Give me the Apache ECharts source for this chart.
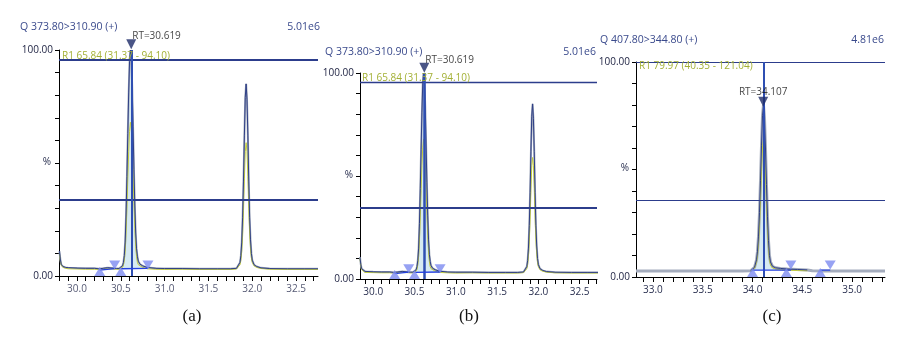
<!DOCTYPE html>
<html><head><meta charset="utf-8">
<script src="https://cdn.jsdelivr.net/npm/echarts@6/dist/echarts.min.js"></script>
<style>html,body{margin:0;padding:0;background:#fff}#c{width:922px;height:343px}</style>
</head><body><div id="c"></div>
<script>
// ---------- Panels (a) and (b): Q 373.80>310.90 (+) ----------
const timeAB = [29.80,29.81,29.82,29.84,29.87,29.90,30.00,30.10,30.20,30.25,30.30,30.35,30.40,30.45,30.48,
  30.50,30.52,30.53,30.54,30.55,30.56,30.57,30.58,30.59,30.60,30.61,30.62,30.63,30.64,30.65,30.66,30.67,30.68,30.69,30.70,30.72,30.75,30.80,30.90,
  31.00,31.20,31.40,31.60,31.75,31.82,31.84,31.86,31.87,31.88,31.89,31.90,31.91,31.92,31.93,31.94,31.95,31.96,31.97,31.98,31.99,32.00,32.02,32.05,32.10,32.20,32.40,32.60,32.75];
const mainAB = [11,7.5,5.2,4.2,3.8,3.7,3.5,3.4,3.4,3.2,3.4,3.7,3.5,3.3,3.3,
  3.6,4.5,6,9,15,27,44,63,81,95,100,96,84,66,47,31,19,12,8.5,6.5,5.2,4.5,3.8,3.4,
  3.3,3.3,3.2,3.2,3.2,3.4,4,6,9,15,26,42,62,79,85,78,62,42,26,16,10,7,5,4.2,3.6,3.3,3.2,3.2,3.2];
const ionAB = [10,7,4.8,3.8,3.4,3.2,3.1,3.0,3.0,2.9,3.0,3.2,3.1,3.0,3.0,
  3.1,3.8,4.8,7,11,19,30,43,55,64,68,65,57,45,32,21,13,8.5,6,5,4.3,3.8,3.2,3.0,
  2.9,3.0,2.9,2.9,2.9,3.1,3.6,5,7,11,18,29,43,55,59,55,44,30,19,12,8,6,4.5,3.8,3.3,3.0,2.9,2.9,2.9];
// start-of-trace values of panel (b), whose time axis begins later
const leadTimeB = [29.84,29.85,29.86,29.88];
const leadB = [10.5,7,5,4.1];
const rtAB = 30.619;
const rtMarkAB = 102.5;
const peakFromAB = 30.50, peakToAB = 30.81;
const intStartAB = [30.26, 30.50];
const intEndAB = [30.43, 30.81];
const intLevelAB = [[2.6,3.3],[3.2,3.4]];
const upMarksAB = [30.26, 30.50];
const downMarksAB = [30.43, 30.81];
const hLinesA = [95.6, 33.6];
const hLinesB = [95.6, 34.5];
const xLabelsAB = [30.0, 30.5, 31.0, 31.5, 32.0, 32.5];

// ---------- Panel (c): Q 407.80>344.80 (+) ----------
const timeC = [32.83,33.20,33.60,33.90,33.98,34.00,34.02,34.04,34.05,34.06,34.07,34.08,34.09,34.10,34.11,34.12,34.13,34.14,34.15,34.16,34.17,34.18,34.20,34.23,34.28,34.35,34.45,34.55,34.60,34.70,35.00,35.33];
const mainC = [2.8,2.8,2.8,2.8,2.9,3.3,4.5,8,12,19,30,45,61,75,80,74,60,43,28,17,10,7,5,4.3,4.0,3.7,3.5,3.3,2.9,2.8,2.8,2.8];
const ionC  = [2.8,2.8,2.8,2.8,2.8,3.1,4,6.8,10,15.5,24,36,49,60,64,59,48,34,22,13.5,8,5.6,4.2,3.7,3.4,3.2,3.0,2.9,2.8,2.8,2.8,2.8];
const rtC = 34.107;
const rtMarkC = 81.5;
const peakFromC = 34.00, peakToC = 34.35;
const intStartC = [34.00, 34.68];
const intEndC = [34.385, 34.78];
const intLevelC = [[3.2,3.2],[3.2,3.2]];
const upMarksC = [34.00, 34.34, 34.68];
const downMarksC = [34.385, 34.78];
const hLinesC = [100, 35.8];
const xLabelsC = [33.0, 33.5, 34.0, 34.5, 35.0];

const titles = {
  a: ['Q 373.80>310.90 (+)', '5.01e6', 'R1 65.84 (31.37 - 94.10)'],
  b: ['Q 373.80>310.90 (+)', '5.01e6', 'R1 65.84 (31.37 - 94.10)'],
  c: ['Q 407.80>344.80 (+)', '4.81e6', 'R1 79.97 (40.35 - 121.04)']
};
const yName = '%';
const captions = ['(a)', '(b)', '(c)'];

// ---------- build ----------
const FONT = 'Open Sans';
const NAVY = '#2f3f86';
const pair = (ts, vs) => ts.map((t, i) => [t, vs[i]]);
const within = (pts, a, b) => pts.filter(p => p[0] >= a - 1e-9 && p[0] <= b + 1e-9);
function segs(starts, ends, levels) {
  const out = [];
  starts.forEach((s, i) => { out.push([s, levels[i][0]], [ends[i], levels[i][1]], [null, null]); });
  return out;
}
// ticks every 0.1 min inside the axis range
function minorTicks(min, max) {
  const out = [];
  for (let k = Math.ceil(min * 10 - 1e-9); k <= Math.floor(max * 10 + 1e-9); k++) out.push(k / 10);
  return out;
}
const mainA = pair(timeAB, mainAB);
const ionA = pair(timeAB, ionAB);
const mainB = pair(leadTimeB, leadB).concat(mainA.filter(p => p[0] > 29.885));
const ionB = pair(leadTimeB, leadB.map(v => v - 0.4)).concat(ionA.filter(p => p[0] > 29.885));
const mainCp = pair(timeC, mainC);
const ionCp = pair(timeC, ionC);

const labelText = { fontSize: 10, fontFamily: FONT, color: '#2a3050' };
function xAxis(gi, min, max, labels, showLabels) {
  return {
    type: 'value', gridIndex: gi, min, max,
    axisLine: { show: true, lineStyle: { color: '#000', width: 1 } },
    axisTick: { show: true, length: 5, lineStyle: { color: '#000' }, customValues: minorTicks(min, max) },
    splitLine: { show: false },
    axisLabel: Object.assign({
      show: showLabels, margin: 8, customValues: labels, hideOverlap: false,
      formatter: v => v.toFixed(1)
    }, labelText)
  };
}
function yAxis(gi) {
  return {
    type: 'value', gridIndex: gi, min: 0, max: 100, interval: 10,
    axisLine: { show: true, lineStyle: { color: '#000', width: 1 } },
    axisTick: { show: true, length: 4, lineStyle: { color: '#000' } },
    splitLine: { show: false },
    axisLabel: {
      margin: 6, fontSize: 10, fontFamily: FONT, color: '#1c2040',
      formatter: v => v === 0 ? '0.00' : (v === 100 ? '100.00' : '')
    }
  };
}
// time labels drawn through the axis scale as point labels (used for panel a)
function timeLabelSeries(gi, labels) {
  return {
    type: 'scatter', xAxisIndex: gi, yAxisIndex: gi, data: labels.map(t => [t, 0]),
    symbol: 'circle', symbolSize: 0.1, itemStyle: { color: 'transparent' }, clip: false, silent: true, z: 8,
    label: Object.assign({ show: true, position: 'bottom', distance: 8, formatter: p => p.value[0].toFixed(1) }, labelText)
  };
}
function panelSeries(gi, main, ion, fromT, toT, fillBase, rt, rtMark, rtAlign, rtOffset, hLines, hWidths, vWidth,
                     ups, downs, upLevel, downLevel, intSegs, greyWidth, navyRange) {
  const list = [];
  list.push({ type: 'line', xAxisIndex: gi, yAxisIndex: gi, data: within(main, fromT, toT), symbol: 'none',
    lineStyle: { width: 0, opacity: 0 }, areaStyle: { color: '#d6eaf2', opacity: 1, origin: fillBase },
    silent: true, z: 1 });
  list.push({ type: 'line', xAxisIndex: gi, yAxisIndex: gi, data: main, symbol: 'none',
    lineStyle: { color: '#a4acbd', width: greyWidth }, silent: true, z: 2 });
  list.push({ type: 'line', xAxisIndex: gi, yAxisIndex: gi,
    data: navyRange ? within(ion, navyRange[0], navyRange[1]) : ion, symbol: 'none',
    lineStyle: { color: '#c2cb3e', width: 1 }, silent: true, z: 3 });
  list.push({ type: 'line', xAxisIndex: gi, yAxisIndex: gi,
    data: navyRange ? within(main, navyRange[0], navyRange[1]) : main, symbol: 'none',
    lineStyle: { color: NAVY, width: 1 }, silent: true, z: 4,
    markLine: {
      silent: true, symbol: 'none', label: { show: false },
      data: hLines.map((v, i) => ({ yAxis: v, lineStyle: { color: '#2c3d8c', width: hWidths[i], type: 'solid' } }))
        .concat([{ xAxis: rt, lineStyle: { color: '#2f4fb2', width: vWidth, type: 'solid' } }])
    } });
  list.push({ type: 'line', xAxisIndex: gi, yAxisIndex: gi, data: intSegs, symbol: 'none', connectNulls: false,
    lineStyle: { color: '#2440e0', width: 1.3 }, silent: true, z: 5 });
  list.push({ type: 'scatter', xAxisIndex: gi, yAxisIndex: gi, data: ups.map(t => [t, upLevel]),
    symbol: 'triangle', symbolSize: [11, 9], itemStyle: { color: '#7d8bf0' }, silent: true, z: 6, clip: false });
  list.push({ type: 'scatter', xAxisIndex: gi, yAxisIndex: gi, data: downs.map(t => [t, downLevel]),
    symbol: 'triangle', symbolRotate: 180, symbolSize: [11, 9], itemStyle: { color: '#7d8bf0' }, silent: true, z: 6, clip: false });
  list.push({ type: 'scatter', xAxisIndex: gi, yAxisIndex: gi, data: [[rt, rtMark]],
    symbol: 'triangle', symbolRotate: 180, symbolSize: [10, 10], itemStyle: { color: '#1d2a68' }, silent: true, z: 7, clip: false,
    label: { show: true, position: 'top', distance: 0, align: rtAlign, offset: rtOffset,
      formatter: 'RT=' + rt.toFixed(3), fontSize: 10, fontFamily: FONT, color: '#111' } });
  return list;
}

const grids = [
  { left: 59, top: 50, right: 604, bottom: 67 },
  { left: 360, top: 73, right: 325, bottom: 64 },
  { left: 636, top: 62, right: 37, bottom: 66 }
];

const series = [].concat(
  panelSeries(0, mainA, ionA, peakFromAB, peakToAB, 3.3, rtAB, rtMarkAB, 'left', [1, 2], hLinesA, [2, 2], 2,
    upMarksAB, downMarksAB, 2.0, 4.9, segs(intStartAB, intEndAB, intLevelAB), 2, null),
  panelSeries(1, mainB, ionB, peakFromAB, peakToAB, 3.3, rtAB, rtMarkAB, 'left', [1, 2], hLinesB, [1.3, 2], 2.5,
    upMarksAB, downMarksAB, 2.2, 5.0, segs(intStartAB, intEndAB, intLevelAB), 2, null),
  panelSeries(2, mainCp, ionCp, peakFromC, peakToC, 3.2, rtC, rtMarkC, 'center', [0, 0], hLinesC, [1, 1], 2,
    upMarksC, downMarksC, 2.1, 5.6, segs(intStartC, intEndC, intLevelC), 3, [33.96, 34.58]),
  [timeLabelSeries(0, xLabelsAB)]
);

const tStyle = (size, color, family) => ({ fontSize: size, fontFamily: family || FONT, color, fontWeight: 'normal' });
const titleDefs = [
  { text: titles.a[0], left: 20, top: 22, textStyle: tStyle(10.5, '#3a4a8c') },
  { text: titles.a[1], right: 602, top: 22, textStyle: tStyle(10.5, '#3a4a8c') },
  { text: titles.a[2], left: 62, top: 51, textStyle: tStyle(10, '#a3b035') },
  { text: titles.b[0], left: 325, top: 47, textStyle: tStyle(10.5, '#3a4a8c') },
  { text: titles.b[1], right: 326, top: 47, textStyle: tStyle(10.5, '#3a4a8c') },
  { text: titles.b[2], left: 362, top: 73, textStyle: tStyle(10, '#a3b035') },
  { text: titles.c[0], left: 600, top: 35, textStyle: tStyle(10.5, '#3a4a8c') },
  { text: titles.c[1], right: 38, top: 35, textStyle: tStyle(10.5, '#3a4a8c') },
  { text: titles.c[2], left: 639, top: 61, textStyle: tStyle(10, '#a3b035') },
  { text: yName, left: 47, top: 157, textAlign: 'center', textStyle: tStyle(10, '#2a3050') },
  { text: yName, left: 349, top: 170, textAlign: 'center', textStyle: tStyle(10, '#2a3050') },
  { text: yName, left: 625, top: 163, textAlign: 'center', textStyle: tStyle(10, '#2a3050') },
  { text: captions[0], left: 192, top: 308, textAlign: 'center', textStyle: tStyle(17, '#111', 'Liberation Serif') },
  { text: captions[1], left: 469, top: 308, textAlign: 'center', textStyle: tStyle(17, '#111', 'Liberation Serif') },
  { text: captions[2], left: 772, top: 308, textAlign: 'center', textStyle: tStyle(17, '#111', 'Liberation Serif') }
].map(t => Object.assign({ padding: 0, itemGap: 0 }, t));

const chart = echarts.init(document.getElementById('c'), null, { renderer: 'canvas' });
chart.setOption({
  animation: false,
  backgroundColor: '#fff',
  title: titleDefs,
  grid: grids,
  xAxis: [xAxis(0, 29.795, 32.75, xLabelsAB, false), xAxis(1, 29.84, 32.71, xLabelsAB, true), xAxis(2, 32.83, 35.33, xLabelsC, true)],
  yAxis: [yAxis(0), yAxis(1), yAxis(2)],
  series
});
</script></body></html>
